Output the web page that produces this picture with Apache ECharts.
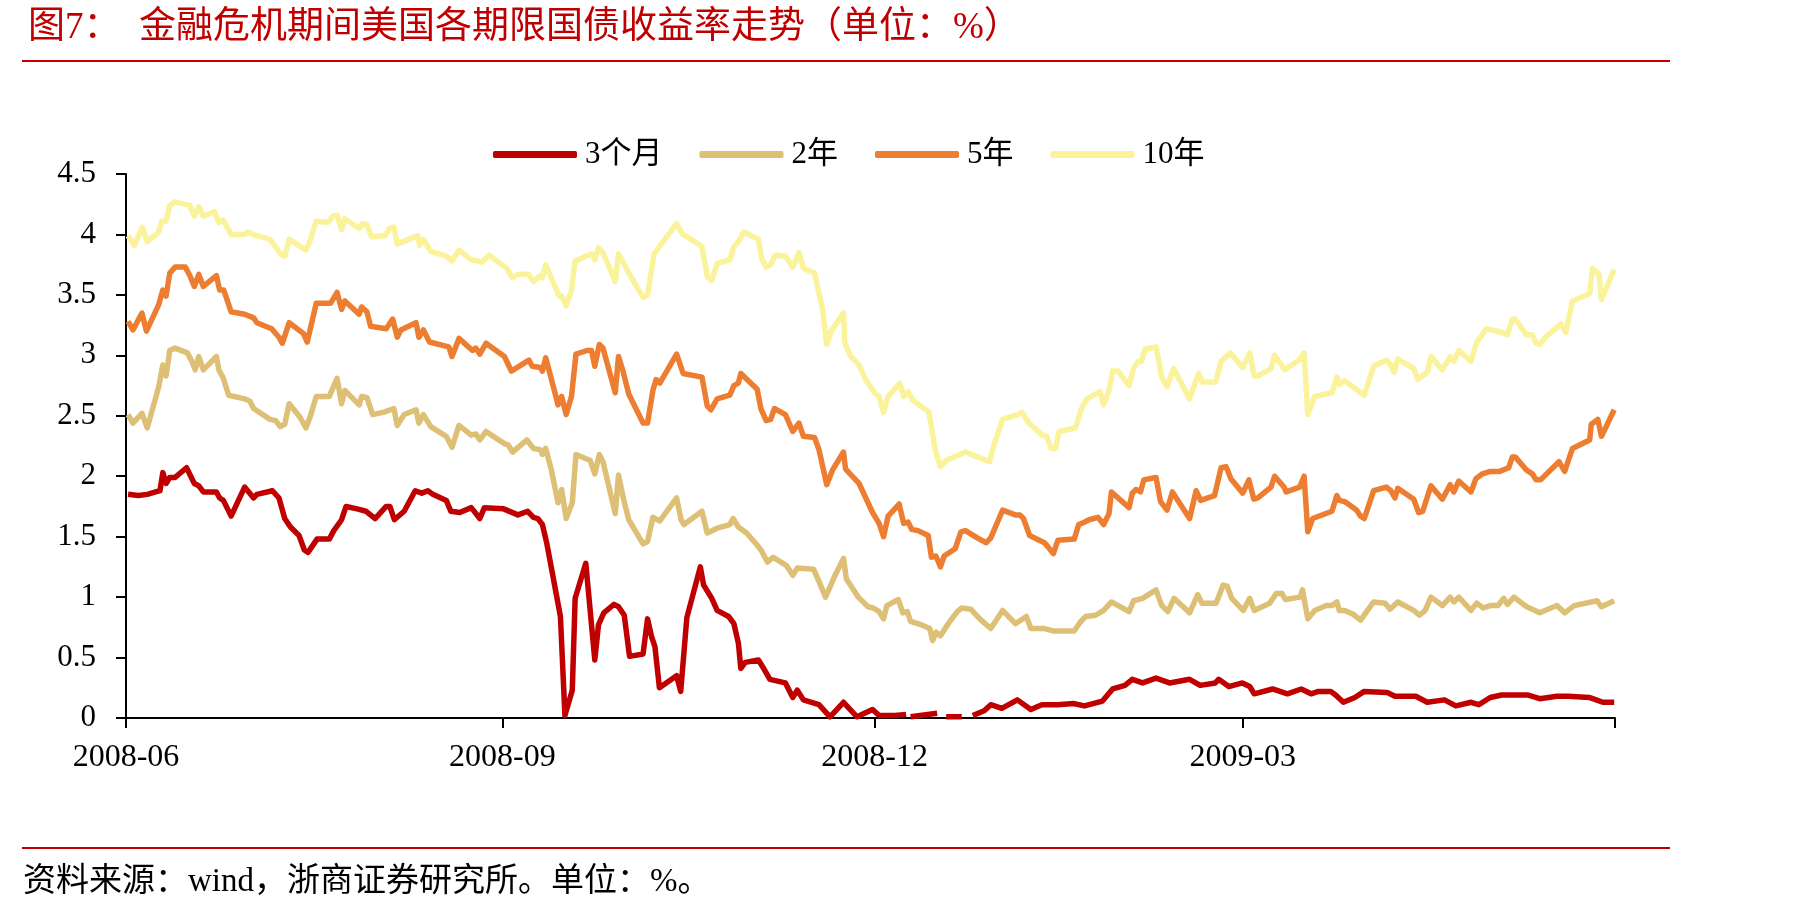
<!DOCTYPE html>
<html>
<head>
<meta charset="utf-8">
<script src="https://cdn.jsdelivr.net/npm/echarts@6/dist/echarts.min.js"></script>
<style>
html, body { margin: 0; padding: 0; background: #fff; }
#main { width: 1798px; height: 916px; }
</style>
</head>
<body>
<div id="main"></div>
<script>
// x = days since 2008-06-01, y = yield (%)
var tickDays = [0, 92, 183, 273, 364];
var tickLabels = ['2008-06', '2008-09', '2008-12', '2009-03', ''];
var seriesNames = ['3个月', '2年', '5年', '10年'];

var days3m = [
	0.5,3,5.2,8.3,9,9.8,10.7,12,14.8,16.7,
	17.8,18.9,22.1,22.9,23.8,25.7,29,31.2,32,35.8,
	37.4,38.8,40.2,42.3,43.6,44.5,46.7,49.7,50.8,52.7,
	53.8,56.5,58.7,60.9,63.6,64.5,65.6,68,70.7,72.3,
	73.8,75,78.3,79.4,81.6,84.4,86.5,87.6,92.3,95.8,
	98.2,99.6,100.7,101.8,102.9,106.2,107.3,109.1,109.8,112.4,
	114.6,115.5,116.8,119.3,120.4,121.8,123.1,126.4,127.5,128.5,
	129.3,130.4,134.6,135.6,137.1,140.4,141.2,143.2,144.5,147.3,
	148.6,149.7,150.3,151.4,154.6,155.7,157.4,161.2,163,164.1,
	165.6,169.4,172.1,175.4,178.7,182.5,184.1,187.9,190.7,191.2,
	191.8,198.3,199.4,200.5,204.3,205.6,207,209.8,211.4,214.1,
	217.9,221.2,223.9,227.8,231.6,234.3,238.7,241.2,244.2,246,
	248.5,251.8,255.1,260,262.6,266.3,267.1,269.6,272.9,274.7,
	275.8,280.3,283.9,287.3,289.7,291.5,294.5,295.7,297.6,300.4,
	302.7,308.3,310.2,315.3,318.1,322.3,325.1,328.8,330.7,333.5,
	336.3,342.8,345.6,349.8,352.6,357.7,361,363.8
];
var yield3m = [
	1.85,1.84,1.85,1.88,2.03,1.94,1.99,1.99,2.07,1.94,
	1.92,1.87,1.87,1.82,1.80,1.67,1.91,1.82,1.85,1.88,
	1.82,1.65,1.58,1.51,1.39,1.37,1.48,1.48,1.55,1.64,
	1.75,1.73,1.71,1.65,1.75,1.75,1.64,1.71,1.88,1.86,
	1.88,1.85,1.80,1.71,1.70,1.74,1.65,1.74,1.73,1.68,
	1.71,1.66,1.65,1.60,1.44,0.84,0.02,0.23,0.99,1.28,
	0.48,0.77,0.87,0.94,0.92,0.85,0.51,0.53,0.82,0.67,
	0.59,0.25,0.35,0.22,0.83,1.25,1.10,0.99,0.89,0.84,
	0.78,0.62,0.41,0.46,0.48,0.42,0.32,0.29,0.17,0.23,
	0.15,0.11,0.01,0.13,0.01,0.07,0.02,0.02,0.03,null,
	0.01,0.04,null,0.01,0.01,null,0.02,0.06,0.11,0.08,
	0.15,0.07,0.11,0.11,0.12,0.10,0.14,0.24,0.27,0.32,
	0.29,0.33,0.29,0.32,0.27,0.29,0.32,0.26,0.29,0.26,
	0.20,0.24,0.20,0.24,0.20,0.22,0.22,0.19,0.13,0.17,
	0.22,0.21,0.18,0.18,0.13,0.15,0.10,0.13,0.11,0.17,
	0.19,0.19,0.16,0.18,0.18,0.17,0.13,0.13
];

var days2y = [
	0.5,1.7,3.9,5.2,8,9,9.8,10.7,12,15,
	16.1,16.9,17.8,18.9,22.1,22.7,23.8,25.1,29,30.3,
	31.2,35.2,36.6,37.7,38.8,39.9,42.5,44,45,46.5,
	49.7,51.6,52.7,53.5,57,57.6,58.9,60.3,63.1,65.5,
	66.3,68,70.9,71.6,72.7,74.5,78.3,79.7,81.4,84.4,
	85.5,86.5,88,92.5,93.4,94.5,98,99.6,101.3,101.8,
	102.6,104,105.6,106.5,107.6,109.1,110,113.5,114.6,115.7,
	116.6,119.6,120.4,121.5,122.9,126.4,127.5,128.8,130.5,134.6,
	135.7,136.4,140.8,142.1,144.5,147.6,148.4,149.7,151.7,154.3,
	155.4,156.8,158.2,161.5,163,164.1,168.1,169.4,171,173.2,
	175.4,176.1,179,181.4,182.7,184.1,185.2,186,188.8,189.9,
	191,191.8,194.5,196.5,197.2,198,199.1,201,203.2,204.3,
	206.5,208.7,211.4,214.3,217.4,220.1,221.2,224.5,226.7,231.8,
	233.2,234.6,237,239,240.9,245.2,246.3,248.5,251.8,253.2,
	254.7,256.2,260,262,263,266.5,268.2,269.2,270.3,273.1,
	274.7,275.8,279.6,281.2,282.6,283.4,287,287.6,288.9,290.6,
	293.4,294.8,296,296.6,297.9,299.9,301.8,305,307.8,309,
	310.9,314.8,316.2,317.6,319,321.8,323.7,324.6,325.8,328.8,
	330.2,331.8,333.5,335.4,336.8,337.7,339.3,342.4,345.6,349.8,
	351.7,354,359.6,360.7,363.8
];
var yield2y = [
	2.51,2.44,2.52,2.40,2.74,2.92,2.83,3.04,3.06,3.02,
	2.95,2.88,2.99,2.88,2.99,2.88,2.81,2.67,2.64,2.62,
	2.56,2.47,2.46,2.41,2.43,2.60,2.49,2.40,2.49,2.66,
	2.66,2.81,2.60,2.71,2.59,2.66,2.65,2.51,2.53,2.56,
	2.42,2.51,2.55,2.44,2.51,2.41,2.33,2.24,2.42,2.34,
	2.35,2.30,2.37,2.27,2.26,2.20,2.30,2.23,2.22,2.18,
	2.23,2.05,1.78,1.89,1.65,1.78,2.18,2.13,2.02,2.18,
	2.12,1.69,2.01,1.83,1.64,1.44,1.46,1.66,1.63,1.82,
	1.64,1.60,1.71,1.53,1.57,1.60,1.65,1.58,1.53,1.43,
	1.38,1.29,1.33,1.26,1.18,1.24,1.23,1.13,1.00,1.17,
	1.32,1.15,1.00,0.92,0.91,0.88,0.82,0.93,0.98,0.87,
	0.88,0.80,0.77,0.74,0.64,0.71,0.68,0.78,0.88,0.91,
	0.90,0.82,0.74,0.89,0.78,0.84,0.74,0.74,0.72,0.72,
	0.79,0.84,0.85,0.89,0.96,0.88,0.97,0.99,1.06,0.93,
	0.88,0.99,0.87,1.02,0.95,0.95,1.10,1.09,0.99,0.89,
	0.99,0.89,0.95,1.03,1.03,0.98,1.00,1.06,0.82,0.89,
	0.93,0.93,0.96,0.89,0.89,0.86,0.81,0.96,0.95,0.90,
	0.96,0.89,0.85,0.89,1.00,0.93,1.00,0.96,1.00,0.89,
	0.95,0.91,0.93,0.93,0.99,0.94,1.00,0.92,0.87,0.93,
	0.87,0.93,0.97,0.92,0.97
];

var days5y = [
	0.5,1.7,3.9,5,8,9,9.8,10.7,12,14.5,
	15.6,16.7,17.8,18.9,22.1,22.9,23.9,25.7,29,31.2,
	32,35.6,37.4,38.2,39.9,43.4,44.3,46.5,50,51.6,
	52.7,53.5,57,57.6,58.9,59.8,63.6,65.2,66.3,67.2,
	70.9,71.6,72.7,74.2,78.9,79.7,81.4,84.7,85.5,86.5,
	88,92.5,94.2,98.5,99.3,101.3,101.8,102.6,105.1,105.6,
	106.5,107.6,108.9,110,112.7,113.8,114.6,115.7,116.6,119.6,
	120.4,121.5,122.9,126.4,127.5,128.8,129.6,130.5,134.6,136.2,
	140.8,142.1,143,144.5,147.6,148.6,149.7,150.3,154.3,155.2,
	156.5,157.6,158.5,161.2,163,164.5,165.6,168.3,169.4,171.3,
	172.7,175.4,175.9,177,179.2,182.5,184.1,185.2,186.3,189,
	190.1,191.2,192.1,193.6,196.1,196.9,198,199.1,200,202.7,
	204.1,205.2,208.1,210.3,211.4,214.3,217.4,218.5,219.4,220.9,
	224.5,225.3,226.7,227.8,231.8,232.9,234.3,235.4,237.6,239,
	240.3,240.9,245.2,246,246.9,248,248.8,251.8,252.9,254.5,
	255.8,260,261.6,262.7,266.1,267.7,268.9,270.1,273,274.5,
	275.7,276.7,279.9,280.8,283.1,283.6,286.9,288,288.9,290.1,
	294.8,296,296.6,297.9,300.8,301.8,302.7,305,308.1,309.2,
	310.2,310.9,314.8,316,317,319,321.8,323.7,324.6,325.8,
	328.8,330,331.6,333.5,335.8,338,338.9,339.6,342.4,343.8,
	344.7,345.8,350.3,351.7,353.6,357.8,358.2,359.8,360.7,363.8
];
var yield5y = [
	3.28,3.21,3.35,3.20,3.42,3.54,3.49,3.68,3.73,3.73,
	3.66,3.57,3.67,3.57,3.66,3.54,3.54,3.36,3.34,3.31,
	3.27,3.22,3.15,3.10,3.27,3.18,3.11,3.43,3.43,3.52,
	3.38,3.45,3.34,3.40,3.36,3.24,3.22,3.30,3.15,3.21,
	3.27,3.15,3.21,3.11,3.07,2.99,3.14,3.04,3.06,3.01,
	3.10,2.99,2.87,2.96,2.91,2.90,2.87,2.98,2.66,2.59,
	2.66,2.51,2.66,3.01,3.04,3.04,2.91,3.09,3.06,2.69,
	2.99,2.87,2.68,2.44,2.44,2.71,2.80,2.77,3.01,2.85,
	2.82,2.58,2.55,2.64,2.67,2.75,2.77,2.85,2.72,2.56,
	2.46,2.47,2.56,2.51,2.37,2.44,2.33,2.32,2.22,1.93,
	2.05,2.20,2.06,2.02,1.94,1.70,1.61,1.50,1.67,1.77,
	1.61,1.62,1.56,1.55,1.51,1.33,1.34,1.25,1.34,1.40,
	1.54,1.55,1.49,1.45,1.49,1.72,1.68,1.68,1.65,1.51,
	1.45,1.42,1.36,1.47,1.48,1.60,1.62,1.64,1.66,1.60,
	1.69,1.87,1.74,1.86,1.89,1.87,1.97,1.99,1.79,1.72,
	1.87,1.65,1.88,1.80,1.84,2.07,2.08,1.98,1.86,1.97,
	1.81,1.82,1.91,2.00,1.91,1.87,1.91,2.00,1.54,1.65,
	1.71,1.84,1.80,1.79,1.72,1.67,1.65,1.88,1.91,1.88,
	1.82,1.90,1.81,1.70,1.71,1.92,1.81,1.93,1.87,1.96,
	1.87,1.98,2.02,2.04,2.04,2.07,2.16,2.16,2.05,2.02,
	1.97,1.97,2.12,2.04,2.23,2.30,2.43,2.47,2.33,2.55
];

var days10y = [
	0.5,2,4,5.2,8,8.7,9.8,10.7,12,15.6,
	16.7,17.8,18.9,21.6,22.7,23.8,25.7,29,29.8,30.9,
	35.2,36.3,37.7,38.8,39.9,44,45,46.5,49.4,50.5,
	51.6,52.7,53.5,57,57.8,58.9,60,63.3,64.4,65.5,
	66.3,71.3,71.8,72.7,74.5,78.3,79.7,81.4,84.4,86.2,
	87.1,88.7,93.1,94.5,95.8,98.5,99.6,101.3,101.8,102.6,
	104,105.9,106.5,107.6,108.9,109.8,113.8,114.6,115.5,116.6,
	119.6,120.4,123.1,126.4,127.5,129.1,134.6,136.1,137.2,140.8,
	142.1,143.2,144.5,147.6,148.6,149.7,151,154.6,155.4,156.5,
	157.6,158.7,161.2,163,164.5,165.6,168.3,170.3,171.3,172.4,
	175.4,175.7,177,179.2,180.8,183,184.1,185.2,186.3,189.2,
	190.1,191.2,192.3,196.3,197.8,199.1,200.5,205.2,208.1,211.1,
	212.2,214.3,218,219,220.7,224,225.1,226.1,227.2,228.1,
	232.1,233.6,234.9,238.1,239,240.3,241.2,242.5,245.2,246.3,
	247.4,248.2,249.1,251.8,253.2,254.5,256.1,260,262.2,263.2,
	266.4,267.7,270,273,274.7,275.8,276.8,279.9,280.8,283.3,
	286.7,288,288.9,290.6,294.8,296,296.7,297.9,302.7,305,
	308.1,309,310,310.9,314.8,315.8,318.1,319,321.8,323.7,
	324.6,325.8,328.8,330.2,332.6,336.3,337.7,338.9,339.6,342.4,
	343.8,344.7,345.6,347,350.8,352,353.6,357.8,358.5,360.1,
	360.7,363.8
];
var yield10y = [
	3.99,3.91,4.06,3.94,4.02,4.11,4.11,4.24,4.27,4.24,
	4.15,4.23,4.15,4.19,4.10,4.12,4.00,4.00,4.02,4.00,
	3.96,3.91,3.84,3.82,3.96,3.87,3.95,4.11,4.10,4.15,
	4.16,4.04,4.13,4.05,4.09,4.08,3.98,3.99,4.05,4.06,
	3.92,3.99,3.91,3.96,3.86,3.82,3.78,3.87,3.79,3.78,
	3.77,3.83,3.72,3.64,3.67,3.67,3.61,3.66,3.64,3.75,
	3.64,3.49,3.49,3.41,3.54,3.78,3.84,3.79,3.89,3.85,
	3.61,3.84,3.67,3.48,3.50,3.84,4.09,4.00,3.98,3.90,
	3.65,3.62,3.76,3.79,3.90,3.94,4.02,3.96,3.80,3.73,
	3.75,3.83,3.82,3.73,3.85,3.72,3.68,3.38,3.09,3.20,
	3.35,3.11,3.00,2.92,2.80,2.69,2.66,2.53,2.66,2.77,
	2.66,2.70,2.63,2.53,2.22,2.08,2.13,2.20,2.16,2.12,
	2.26,2.47,2.51,2.53,2.44,2.34,2.33,2.23,2.23,2.37,
	2.40,2.56,2.64,2.70,2.59,2.71,2.87,2.87,2.75,2.89,
	2.95,2.95,3.05,3.07,2.82,2.74,2.89,2.64,2.85,2.78,
	2.78,2.95,3.02,2.90,3.02,2.83,2.83,2.89,3.00,2.88,
	2.96,3.02,2.51,2.66,2.69,2.82,2.76,2.79,2.67,2.91,
	2.96,2.93,2.86,2.97,2.89,2.80,2.86,2.99,2.88,2.99,
	2.95,3.04,2.95,3.11,3.22,3.19,3.17,3.30,3.30,3.17,
	3.17,3.10,3.09,3.15,3.26,3.19,3.45,3.51,3.72,3.67,
	3.46,3.71
];

var lineColors = ['#C00000', '#DDC075', '#ED7D31', '#FAF39B'];
var latinCjk = '"Liberation Serif", "Noto Sans CJK SC", serif';

function pairs(xs, ys) {
	var out = [];
	for (var i = 0; i < xs.length; i++) {
		out.push([xs[i], ys[i] == null ? '-' : ys[i]]);
	}
	return out;
}

function makeLine(name, xs, ys, color) {
	return {
		name: name,
		type: 'line',
		data: pairs(xs, ys),
		showSymbol: false,
		symbol: 'none',
		clip: false,
		connectNulls: false,
		color: color,
		lineStyle: { width: 5.5, color: color, join: 'round' }
	};
}

var myChart = echarts.init(document.getElementById('main'));
var option = {
	backgroundColor: '#ffffff',
	animation: false,
	title: {
		text: '图7：  金融危机期间美国各期限国债收益率走势（单位：%）',
		left: 23,
		top: 5,
		textStyle: {
			color: '#C00000',
			fontWeight: 'normal',
			fontFamily: latinCjk,
			fontSize: 37
		}
	},
	legend: {
		left: 488,
		top: 134,
		icon: 'roundRect',
		itemWidth: 84,
		itemHeight: 7,
		itemGap: 37,
		data: seriesNames,
		textStyle: { fontSize: 31, fontFamily: latinCjk, color: '#000', padding: [0, 0, 0, 3] }
	},
	grid: { left: 126, right: 183, top: 174, bottom: 198 },
	xAxis: {
		type: 'value',
		min: 0,
		max: 364,
		axisLine: { lineStyle: { color: '#000', width: 2 } },
		axisTick: { show: true, length: 10, customValues: tickDays, lineStyle: { color: '#000', width: 2 } },
		axisLabel: {
			customValues: tickDays.slice(0, 4),
			margin: 24,
			fontSize: 32,
			fontFamily: latinCjk,
			color: '#000',
			formatter: function (v) {
				var i = tickDays.indexOf(v);
				return i < 0 ? '' : tickLabels[i];
			}
		},
		splitLine: { show: false }
	},
	yAxis: {
		type: 'value',
		min: 0,
		max: 4.5,
		interval: 0.5,
		axisLine: { show: true, lineStyle: { color: '#000', width: 2 } },
		axisTick: { show: true, length: 10, lineStyle: { color: '#000', width: 2 } },
		axisLabel: { margin: 30, fontSize: 31, fontFamily: latinCjk, color: '#000' },
		splitLine: { show: false }
	},
	graphic: [
		{ type: 'line', shape: { x1: 22, y1: 61, x2: 1670, y2: 61 }, style: { stroke: '#C00000', lineWidth: 2 } },
		{ type: 'line', shape: { x1: 22, y1: 848, x2: 1670, y2: 848 }, style: { stroke: '#C00000', lineWidth: 2 } },
		{
			type: 'text',
			left: 23,
			top: 866,
			style: { text: '资料来源：wind，浙商证券研究所。单位：%。', font: '33px "Liberation Serif", "Noto Sans CJK SC", serif', fill: '#000' }
		}
	],
	series: [
		makeLine(seriesNames[0], days3m, yield3m, lineColors[0]),
		makeLine(seriesNames[1], days2y, yield2y, lineColors[1]),
		makeLine(seriesNames[2], days5y, yield5y, lineColors[2]),
		makeLine(seriesNames[3], days10y, yield10y, lineColors[3])
	]
};
myChart.setOption(option);
</script>
</body>
</html>
